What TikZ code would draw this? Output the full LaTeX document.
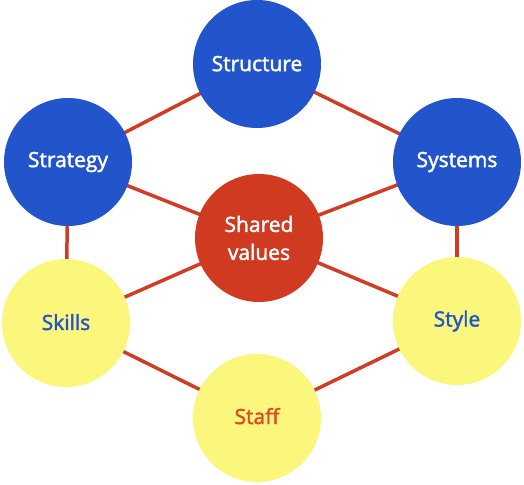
\documentclass[tikz,border=0pt]{standalone}
\usepackage{fontspec}
\setmainfont{Open Sans}
\newfontfamily\semifont{Open Sans}[FakeBold=2]
\definecolor{cblue}{HTML}{2255CC}
\definecolor{cred}{HTML}{CF3A20}
\definecolor{cyel}{HTML}{FBF67C}
\definecolor{cline}{HTML}{D23C22}
\definecolor{cstaff}{HTML}{E04A22}
\begin{document}
\begin{tikzpicture}[x=1pt,y=-1pt,
  base/.style={circle,minimum size=128pt,inner sep=0pt,align=center,font=\fontsize{21}{28}\semifont},
  bluec/.style={base,fill=cblue,text=white},
  redc/.style={base,fill=cred,text=white},
  yelc/.style={base,fill=cyel,text=cblue},
  link/.style={draw=cline,line width=3.5pt}]
\useasboundingbox (0,0) rectangle (524,484);
\coordinate (pStructure) at (257,64);
\coordinate (pStrategy) at (68,162);
\coordinate (pSystems) at (457,162);
\coordinate (pShared) at (259,238);
\coordinate (pSkills) at (66,323);
\coordinate (pStyle) at (457,321);
\coordinate (pStaff) at (257,418);
\foreach \a/\b in {Structure/Strategy,Structure/Systems,Strategy/Shared,Systems/Shared,Strategy/Skills,Systems/Style,Skills/Shared,Style/Shared,Skills/Staff,Style/Staff}
  \draw[link] (p\a) -- (p\b);
\node[bluec] (structure) at (pStructure) {\raisebox{1pt}{Structure}};
\node[bluec] (strategy) at (pStrategy) {Strategy};
\node[bluec] (systems) at (pSystems) {Systems};
\node[redc] (shared) at (pShared) {Shared\\values};
\node[yelc] (skills) at (pSkills) {\raisebox{2pt}{Skills}};
\node[yelc] (style) at (pStyle) {Style};
\node[yelc,text=cstaff] (staff) at (pStaff) {\raisebox{4pt}{Staff}};
\end{tikzpicture}
\end{document}
